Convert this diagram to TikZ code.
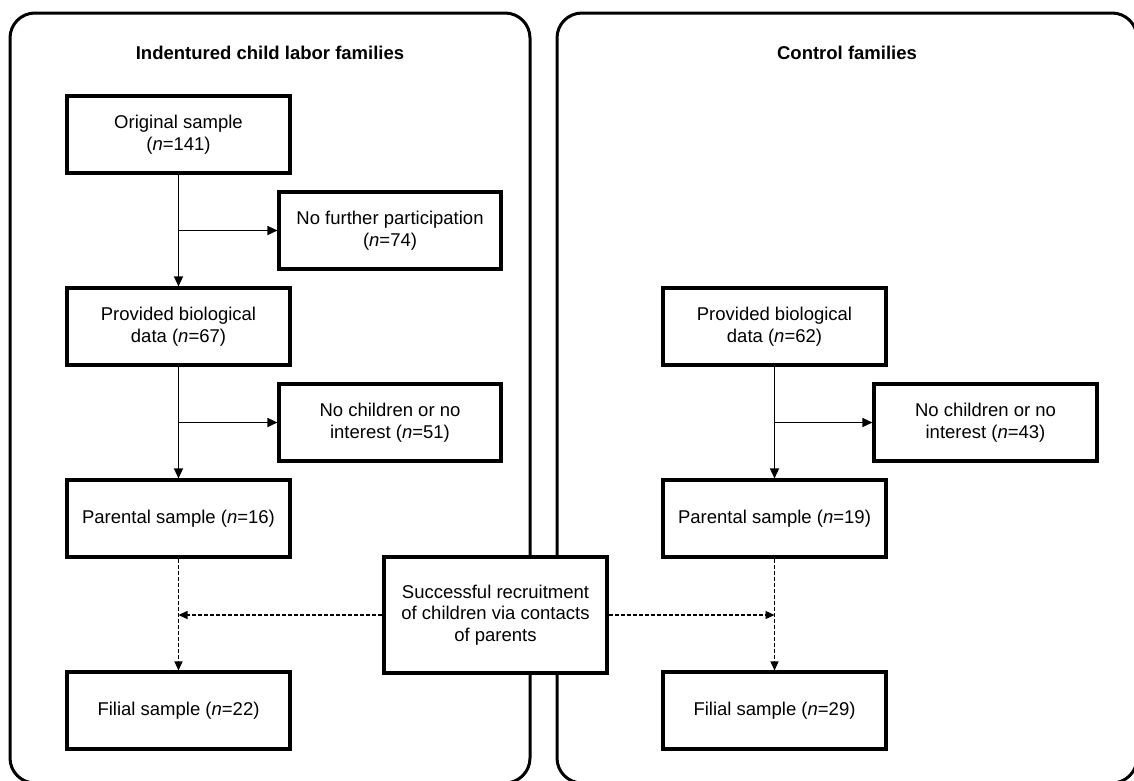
\documentclass[tikz,border=0pt]{standalone}
\usepackage{fontspec}
\setmainfont{Liberation Sans}
\usetikzlibrary{arrows.meta}
\begin{document}
\begin{tikzpicture}[x=1pt,y=-1pt,
  every node/.style={font=\fontsize{18.5}{21.7}\selectfont},
  panel/.style={draw,line width=3pt,rounded corners=25pt},
  ptitle/.style={font=\fontsize{18.5}{21.7}\selectfont\bfseries},
  sbox/.style={draw,line width=3.1pt,fill=white,align=center,inner sep=2pt,minimum width=223pt,minimum height=77pt},
  arr/.style={line width=1.3pt,-{Triangle[length=10pt,width=9pt]}},
  darr/.style={line width=1.2pt,dash pattern=on 4pt off 2pt,-{Triangle[length=9pt,width=8pt]}}]
\useasboundingbox (0,0) rectangle (1134,780);
\begin{scope}
\clip (0,0) rectangle (1134,780);
\draw[panel] (10,13) rectangle (530,783);
\draw[panel] (557,13) rectangle (1137,783);
\end{scope}
\node[ptitle] (t1) at (270,53) {Indentured child labor families};
\node[ptitle] (t2) at (847,53) {Control families};

\node[sbox] (A) at (178.5,134.5) {Original sample\\(\textit{n}=141)};
\node[sbox,minimum width=222pt] (B) at (390,230.5) {No further participation\\(\textit{n}=74)};
\node[sbox] (C) at (178.5,326.5) {Provided biological\\data (\textit{n}=67)};
\node[sbox,minimum width=222pt] (D) at (390,422.5) {No children or no\\interest (\textit{n}=51)};
\node[sbox] (E) at (178.5,518.5) {Parental sample (\textit{n}=16)};
\node[sbox] (F) at (178.5,710.5) {Filial sample (\textit{n}=22)};
\node[sbox,minimum height=116pt] (G) at (495.5,615) {Successful recruitment\\of children via contacts\\of parents};
\node[sbox] (H) at (774.5,326.5) {Provided biological\\data (\textit{n}=62)};
\node[sbox] (I) at (985.5,422.5) {No children or no\\interest (\textit{n}=43)};
\node[sbox] (J) at (774.5,518.5) {Parental sample (\textit{n}=19)};
\node[sbox] (K) at (774.5,710.5) {Filial sample (\textit{n}=29)};

\draw[arr] (A) -- (C);
\draw[arr] (A.south |- B.west) -- (B.west);
\draw[arr] (C) -- (E);
\draw[arr] (C.south |- D.west) -- (D.west);
\draw[arr] (H) -- (J);
\draw[arr] (H.south |- I.west) -- (I.west);
\draw[darr] (E) -- (F);
\draw[darr] (J) -- (K);
\draw[darr] (G.west) -- (G.west -| E.south);
\draw[darr] (G.east) -- (G.east -| J.south);
\end{tikzpicture}
\end{document}
